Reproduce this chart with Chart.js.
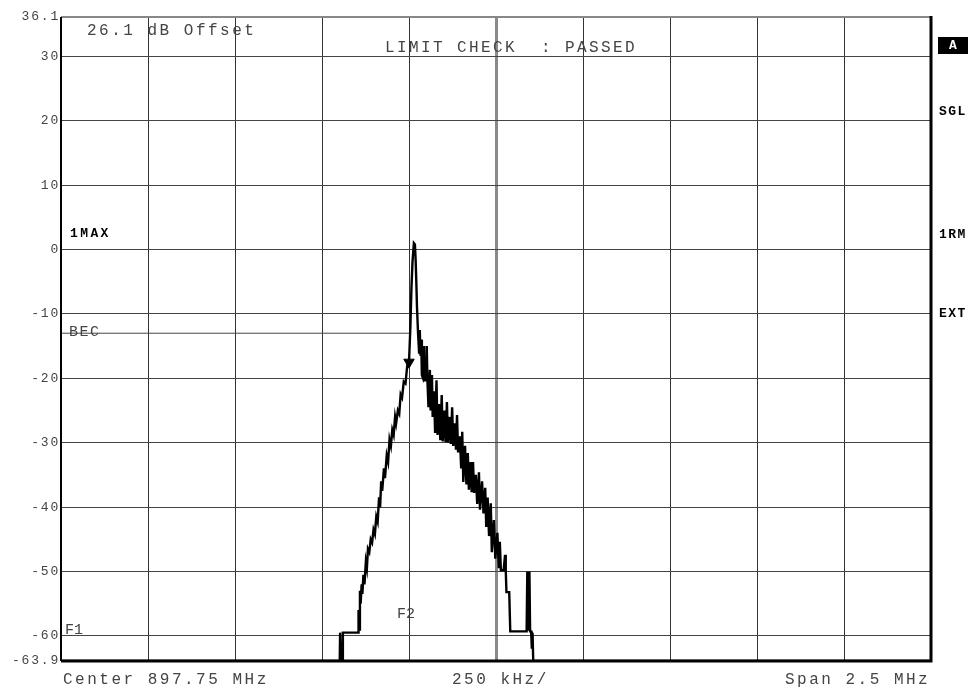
<!DOCTYPE html>
<html>
<head>
<meta charset="utf-8">
<script src="https://cdn.jsdelivr.net/npm/chart.js@4"></script>
<style>
  body { margin: 0; background: #fff; }
  #wrap { width: 973px; height: 688px; }
</style>
</head>
<body>
<div id="wrap"><canvas id="spec" width="973" height="688"></canvas></div>
<script>
// frequency offset from centre (kHz) and trace level (dB)
var freqKHz = [-1250, -449, -448, -446, -445, -442, -440, -396, -395, -393, -391, -389, -386, -384, -381, -378,
  -374, -371, -368, -364, -360, -356, -352, -348, -344, -340, -336, -333, -330, -327, -322, -319,
  -314, -310, -306, -302, -298, -294, -290, -287, -282, -278, -274, -270, -265, -260, -255, -250,
  -246, -243, -240, -236, -233, -231, -229, -227, -224, -221, -219, -217, -215, -213, -211, -209,
  -207, -202, -199, -197, -194, -190, -188, -184, -182, -178, -175, -171, -168, -164, -160, -156,
  -153, -148, -145, -141, -138, -133, -130, -126, -123, -118, -115, -112, -109, -104, -100, -97,
  -94, -89, -85, -81, -78, -73, -70, -66, -63, -58, -54, -49, -46, -40, -36, -31,
  -28, -24, -20, -15, -12, -6, -2, 4, 8, 11, 14, 22, 26, 28, 30, 38,
  41, 88, 90, 92, 93, 95, 96, 98, 101, 103, 105, 107, 1250];
var levelDb = [-63.9, -63.9, -59.5, -59.5, -63.9, -63.9, -59.5, -59.5, -56, -59, -53, -55, -52, -53.5, -50.5, -52,
  -48.5, -49.5, -46.5, -47, -45, -45.5, -43.5, -44.2, -41.5, -42.3, -38.5, -40, -36, -37.5, -34, -35.5,
  -32, -33, -29.5, -30.5, -28, -28.8, -26, -27, -25, -25.5, -22.5, -23, -20.5, -20.8, -18, -17.5,
  -12, -6, -2, 1, 0.8, -1.5, -5, -9, -13, -16, -12.5, -16.5, -14, -19.5, -19.8, -15,
  -20.3, -20.3, -15, -20.5, -24.5, -18.7, -25, -19.5, -26, -22, -28.5, -20.3, -28.8, -24, -29.6, -22.6,
  -29.8, -25, -29.9, -23.7, -30, -26, -30.2, -24.5, -30.5, -27, -31.1, -25.7, -31.5, -29, -34, -28.3,
  -36.1, -30.5, -36.5, -31.6, -37.3, -33, -37.7, -33, -37.8, -35, -39.5, -34.6, -40.4, -36, -41, -37,
  -43.1, -38.5, -44.5, -39.4, -47, -42, -48, -44, -49.5, -45.4, -49.8, -49.8, -47.4, -49.8, -53.2, -53.2,
  -59.3, -59.3, -50, -59, -50, -58, -50, -59.3, -59.3, -62, -59.5, -63.9, -63.9];

var yTicks = [36.1, 30, 20, 10, 0, -10, -20, -30, -40, -50, -60, -63.9];
var spanKHz = 1250;
var becLevel = -13;
var becFromKHz = -1250;
var becToKHz = -250;
var markerKHz = -250;
var markerDb = -17.5;

function pts(xs, ys) {
  var out = [];
  for (var i = 0; i < xs.length; i++) out.push({ x: xs[i], y: ys[i] });
  return out;
}

var mono = "Liberation Mono, Courier New, monospace";

function txt(ctx, s, x, y, font, spacing, color, align) {
  ctx.save();
  ctx.font = font;
  ctx.letterSpacing = spacing;
  ctx.fillStyle = color || "#444";
  ctx.textAlign = align || "left";
  ctx.textBaseline = "middle";
  ctx.fillText(s, x, y);
  ctx.restore();
}

var screenPlugin = {
  id: "screen",
  beforeDraw: function (chart) {
    chart.ctx.letterSpacing = "1.8px";
  },
  afterDraw: function (chart) {
    var ctx = chart.ctx;
    var a = chart.chartArea;
    ctx.save();
    ctx.letterSpacing = "0px";
    // frame
    ctx.strokeStyle = "#888";
    ctx.lineWidth = 2;
    ctx.beginPath(); ctx.moveTo(a.left, a.top); ctx.lineTo(a.right, a.top); ctx.stroke();
    ctx.strokeStyle = "#000";
    ctx.lineWidth = 2;
    ctx.beginPath(); ctx.moveTo(a.left, a.top); ctx.lineTo(a.left, a.bottom); ctx.stroke();
    ctx.lineWidth = 3;
    ctx.beginPath(); ctx.moveTo(a.left, a.bottom); ctx.lineTo(a.right, a.bottom); ctx.lineTo(a.right, a.top - 1); ctx.stroke();
    ctx.restore();

    var big = "16px " + mono;
    txt(ctx, "26.1 dB Offset", 87, 31, big, "2.5px");
    txt(ctx, "LIMIT CHECK  : PASSED", 385, 48, big, "2.4px");
    txt(ctx, "Center 897.75 MHz", 63, 680, big, "2.5px");
    txt(ctx, "250 kHz/", 452, 680, big, "2.5px");
    txt(ctx, "Span 2.5 MHz", 785, 680, big, "2.5px");
    txt(ctx, "BEC", 69, 332, "15px " + mono, "1.5px", "#444");
    txt(ctx, "F1", 65, 630, "15px " + mono, "0px", "#444");
    txt(ctx, "F2", 397, 614, "15px " + mono, "0px", "#444");

    var bold = "bold 13px " + mono;
    txt(ctx, "1MAX", 70, 234, bold, "2.4px", "#000");
    txt(ctx, "SGL", 939, 112, bold, "1.5px", "#000");
    txt(ctx, "1RM", 939, 235, bold, "1.5px", "#000");
    txt(ctx, "EXT", 939, 314, bold, "1.5px", "#000");

    ctx.save();
    ctx.fillStyle = "#000";
    ctx.fillRect(938, 37, 30, 17);
    ctx.restore();
    txt(ctx, "A", 953, 46, bold, "0px", "#fff", "center");
  }
};

new Chart(document.getElementById("spec"), {
  type: "scatter",
  data: {
    datasets: [
      {
        data: pts(freqKHz, levelDb),
        showLine: true,
        borderColor: "#000",
        borderWidth: 2.4,
        pointRadius: 0,
        tension: 0
      },
      {
        data: [{ x: becFromKHz, y: becLevel }, { x: becToKHz, y: becLevel }],
        showLine: true,
        borderColor: "#444",
        borderWidth: 1,
        pointRadius: 0
      },
      {
        data: [{ x: markerKHz, y: markerDb }],
        pointStyle: "triangle",
        rotation: 180,
        pointRadius: 6,
        backgroundColor: "#000",
        borderColor: "#000"
      }
    ]
  },
  options: {
    responsive: false,
    animation: false,
    devicePixelRatio: 1,
    layout: { padding: { top: 17, right: 42, left: 0, bottom: 0 } },
    plugins: { legend: { display: false }, tooltip: { enabled: false } },
    scales: {
      x: {
        type: "linear",
        min: -spanKHz,
        max: spanKHz,
        afterFit: function (scale) { scale.height = 27; },
        ticks: { display: false, stepSize: 250 },
        border: { display: false },
        grid: {
          drawTicks: false,
          color: function (c) { return c.tick && c.tick.value === 0 ? "#8a8a8a" : "#333"; },
          lineWidth: function (c) { return c.tick && c.tick.value === 0 ? 3 : 1; }
        }
      },
      y: {
        min: -63.9,
        max: 36.1,
        afterFit: function (scale) { scale.width = 61; },
        afterBuildTicks: function (scale) {
          scale.ticks = yTicks.map(function (v) { return { value: v }; });
        },
        ticks: {
          padding: 1,
          color: "#444",
          font: { family: mono, size: 13 },
          callback: function (v) { return String(v); }
        },
        border: { display: false },
        grid: { drawTicks: false, color: "#444", lineWidth: 1 }
      }
    }
  },
  plugins: [screenPlugin]
});
</script>
</body>
</html>
